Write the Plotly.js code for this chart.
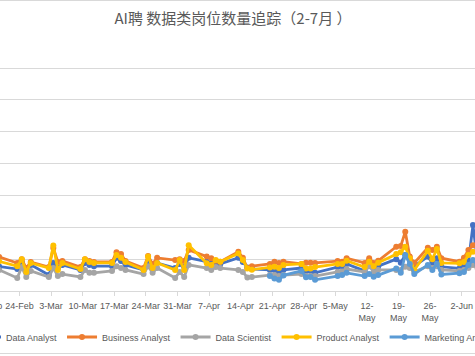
<!DOCTYPE html>
<html>
<head>
<meta charset="utf-8">
<script src="https://cdn.plot.ly/plotly-3.0.1.min.js"></script>
<style>
  html, body { margin: 0; padding: 0; background: #ffffff; overflow: hidden; width: 475px; height: 356px; }
  #chart { position: absolute; left: -100px; top: 1px; width: 700px; height: 400px; }
  .frame { position: absolute; left: 0; width: 475px; height: 1px; background: #D9D9D9; }
</style>
</head>
<body>
<div id="chart"></div>
<div class="frame" style="top:0px"></div>
<div class="frame" style="top:353px"></div>
<script>
// ---- data ----
const dates = [
  '2019-02-16','2019-02-17','2019-02-18','2019-02-19',
  '2019-02-23','2019-02-24','2019-02-25','2019-02-26',
  '2019-03-02','2019-03-03','2019-03-04','2019-03-05',
  '2019-03-09','2019-03-10','2019-03-11','2019-03-12',
  '2019-03-16','2019-03-17','2019-03-18','2019-03-19',
  '2019-03-23','2019-03-24','2019-03-25','2019-03-26',
  '2019-03-30','2019-03-31','2019-04-01','2019-04-02',
  '2019-04-06','2019-04-07','2019-04-08','2019-04-09',
  '2019-04-13','2019-04-14','2019-04-15','2019-04-16',
  '2019-04-20','2019-04-21','2019-04-22','2019-04-23',
  '2019-04-27','2019-04-28','2019-04-29','2019-04-30',
  '2019-05-05','2019-05-06','2019-05-07',
  '2019-05-11','2019-05-12','2019-05-13','2019-05-14',
  '2019-05-18','2019-05-19','2019-05-20','2019-05-21','2019-05-22',
  '2019-05-25','2019-05-26','2019-05-27','2019-05-28',
  '2019-06-01','2019-06-02','2019-06-03','2019-06-04','2019-06-05'
];
const dataAnalyst = [
  85,78,72,77, 69,91,66,82, 50,88,72,82, 66,88,82,78, 78,104,94,82,
  66,91,75,88, 72,85,75,104, 92,86,88,85, 104,91,74,69, 66,66,60,66,
  72,63,63,57, 75,78,85, 63,85,72,78, 100,89,113,97,78, 108,88,103,76,
  71,82,91,207,91
];
const businessAnalyst = [
  97,91,100,107, 88,100,72,91, 75,135,91,94, 75,100,94,91, 91,122,116,94,
  72,110,85,104, 97,100,94,129, 108,103,95,92, 123,104,72,78, 85,92,88,92,
  85,89,89,88, 94,92,103, 88,103,88,95, 139,141,186,108,88, 136,129,139,103,
  92,104,129,144,148
];
const dataScientist = [
  72,66,78,66, 41,75,44,63, 44,72,47,53, 44,66,57,57, 63,78,72,66,
  53,78,57,72, 41,60,44,82, 72,66,75,72, 66,60,42,44, 50,50,47,50,
  53,47,47,47, 60,61,69, 60,78,60,66, 66,66,76,72,60, 78,72,78,66,
  63,66,72,82,72
];
const productAnalyst = [
  88,82,91,93, 78,100,60,88, 72,143,66,88, 69,100,91,88, 88,113,104,91,
  66,108,72,88, 66,97,66,144, 87,82,97,92, 118,97,71,67, 74,76,72,82,
  85,71,71,75, 85,85,95, 75,92,78,89, 116,122,139,103,66, 126,100,132,88,
  87,91,113,123,119
];
const marketingAnalyst = [
  null,null,null,null, null,null,null,null, null,null,null,null, null,null,null,null, null,null,null,null,
  null,null,null,null, null,null,null,null, null,null,null,null, null,null,null,null, 47,39,35,49,
  63,43,44,35, 47,50,57, 47,53,45,50, 71,57,113,85,53, 82,66,85,52,
  56,60,82,97,82
];
const seriesNames = ['Data Analyst','Business Analyst','Data Scientist','Product Analyst','Marketing Analyst'];
const tickDates = ['2019-02-17','2019-02-24','2019-03-03','2019-03-10','2019-03-17','2019-03-24','2019-03-31',
  '2019-04-07','2019-04-14','2019-04-21','2019-04-28','2019-05-05','2019-05-12','2019-05-19','2019-05-26',
  '2019-06-02','2019-06-09','2019-06-16'];
const tickLabels = ['17-Feb','24-Feb','3-Mar','10-Mar','17-Mar','24-Mar','31-Mar','7-Apr','14-Apr','21-Apr',
  '28-Apr','5-May','12-<br>May','19-<br>May','26-<br>May','2-Jun','9-Jun','16-Jun'];
const titleText = 'AI聘 数据类岗位数量追踪（2-7月 ）';

// ---- chart ----
const colors = ['#4472C4','#ED7D31','#A5A5A5','#FFC000','#5B9BD5'];
const allSeries = [dataAnalyst, businessAnalyst, dataScientist, productAnalyst, marketingAnalyst];
// Excel date axis "between tick marks": each day's point sits in the middle of its day slot
const xs = dates.map(d => d + ' 12:00');
const traces = allSeries.map((ys, i) => ({
  type: 'scatter', mode: 'lines+markers', name: seriesNames[i],
  x: xs, y: ys, connectgaps: false,
  line: { color: colors[i], width: 2.8 },
  marker: { color: colors[i], size: 6, symbol: 'circle' }
}));

const DAY = 86400000;
const t0 = Date.UTC(2019, 1, 24);
const pxPerDay = 4.512;
const range = [t0 + (-40 - 19.5) / pxPerDay * DAY, t0 + (560 - 19.5) / pxPerDay * DAY];
const H = 400;

const layout = {
  width: 700, height: H,
  margin: { l: 60, r: 40, t: 65, b: H - 290, autoexpand: false },
  paper_bgcolor: '#ffffff', plot_bgcolor: '#ffffff',
  title: {
    text: titleText, xref: 'container', yref: 'container',
    x: 333 / 700, xanchor: 'center', y: 1 - 18 / H, yanchor: 'middle',
    font: { family: 'Noto Sans CJK SC, Noto Sans, sans-serif', size: 15, color: '#595959' }
  },
  xaxis: {
    type: 'date', range: range, tickmode: 'array', tickvals: tickDates, ticktext: tickLabels,
    showgrid: false, zeroline: false, showline: true, linecolor: '#D9D9D9', linewidth: 1,
    ticks: 'outside', ticklen: 4, tickcolor: '#D9D9D9', tickwidth: 1, ticklabelstandoff: 2,
    tickfont: { family: 'Liberation Sans, Arial, sans-serif', size: 9, color: '#595959' },
    tickangle: 0, automargin: false
  },
  yaxis: {
    range: [0, 706.3], tickmode: 'linear', dtick: 100, tick0: 0, showgrid: true, gridcolor: '#D9D9D9', gridwidth: 1,
    zeroline: false, showline: false, ticks: '',
    tickfont: { family: 'Liberation Sans, Arial, sans-serif', size: 9, color: '#595959' },
    automargin: false
  },
  showlegend: true,
  legend: {
    orientation: 'h', x: 0.01, xanchor: 'left',
    yref: 'container', y: 1 - 336 / H, yanchor: 'middle',
    font: { family: 'Liberation Sans, Arial, sans-serif', size: 9, color: '#595959' },
    bgcolor: 'rgba(0,0,0,0)', itemwidth: 30, traceorder: 'normal'
  }
};

Plotly.newPlot('chart', traces, layout, { displayModeBar: false, staticPlot: true });
</script>
</body>
</html>
